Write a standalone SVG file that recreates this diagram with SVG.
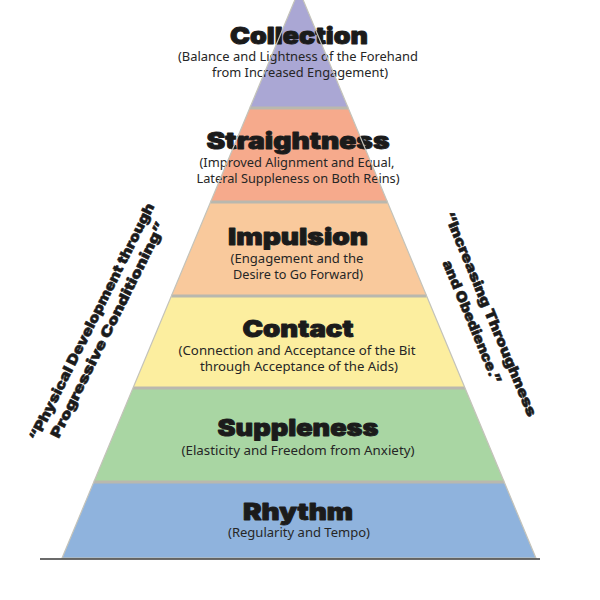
<svg xmlns="http://www.w3.org/2000/svg" width="600" height="600" viewBox="0 0 600 600">
<style>
.title{font-family:"Inter","Lato","Open Sans","DejaVu Sans",sans-serif;font-weight:900;font-size:23px;fill:#1b1b1b;stroke:#1b1b1b;stroke-width:0.9;stroke-linejoin:round;text-anchor:middle}
.sub{font-family:"Noto Sans","Open Sans","Liberation Sans",sans-serif;font-size:12px;fill:#262626;text-anchor:middle}
.side{font-family:"Inter","Lato","Open Sans","DejaVu Sans",sans-serif;font-weight:900;font-size:14px;fill:#1b1b1b;stroke:#1b1b1b;stroke-width:0.5;stroke-linejoin:round;text-anchor:middle}
.sep{stroke:#b9b8ae;stroke-width:3}
</style>
<rect width="600" height="600" fill="#ffffff"/>
<g id="collection">
<polygon points="299,-10 348.2,108 249.8,108" fill="#aaa7d4"/>
<text class="title" x="299" y="44" textLength="138" lengthAdjust="spacingAndGlyphs">Collection</text>
<text class="sub" x="298" y="61" textLength="240" lengthAdjust="spacingAndGlyphs">(Balance and Lightness of the Forehand</text>
<text class="sub" x="300" y="77" textLength="176" lengthAdjust="spacingAndGlyphs">from Increased Engagement)</text>
</g>
<g id="straightness">
<polygon points="249.8,108 348.2,108 387.4,202 210.6,202" fill="#f6aa8c"/>
<text class="title" x="298" y="149" textLength="183" lengthAdjust="spacingAndGlyphs">Straightness</text>
<text class="sub" x="297" y="167" textLength="195" lengthAdjust="spacingAndGlyphs">(Improved Alignment and Equal,</text>
<text class="sub" x="298" y="183" textLength="203" lengthAdjust="spacingAndGlyphs">Lateral Suppleness on Both Reins)</text>
</g>
<g id="impulsion">
<polygon points="210.6,202 387.4,202 426.6,296 171.4,296" fill="#f9c99c"/>
<text class="title" x="298" y="245" textLength="140" lengthAdjust="spacingAndGlyphs">Impulsion</text>
<text class="sub" x="297" y="263" textLength="133" lengthAdjust="spacingAndGlyphs">(Engagement and the</text>
<text class="sub" x="298" y="279" textLength="130" lengthAdjust="spacingAndGlyphs">Desire to Go Forward)</text>
</g>
<g id="contact">
<polygon points="171.4,296 426.6,296 465,388 133,388" fill="#fcee9f"/>
<text class="title" x="298" y="337" textLength="111" lengthAdjust="spacingAndGlyphs">Contact</text>
<text class="sub" x="297" y="355" textLength="237" lengthAdjust="spacingAndGlyphs">(Connection and Acceptance of the Bit</text>
<text class="sub" x="299" y="371" textLength="198" lengthAdjust="spacingAndGlyphs">through Acceptance of the Aids)</text>
</g>
<g id="suppleness">
<polygon points="133,388 465,388 504.2,482 93.8,482" fill="#a9d6a3"/>
<text class="title" x="298" y="436" textLength="161" lengthAdjust="spacingAndGlyphs">Suppleness</text>
<text class="sub" x="298" y="455" textLength="233" lengthAdjust="spacingAndGlyphs">(Elasticity and Freedom from Anxiety)</text>
</g>
<g id="rhythm">
<polygon points="93.8,482 504.2,482 535.9,558 62.1,558" fill="#8fb3dd"/>
<text class="title" x="298" y="520" textLength="110" lengthAdjust="spacingAndGlyphs">Rhythm</text>
<text class="sub" x="299" y="537" textLength="142" lengthAdjust="spacingAndGlyphs">(Regularity and Tempo)</text>
</g>
<g id="separators">
<line class="sep" x1="249.8" y1="108" x2="348.2" y2="108"/>
<line class="sep" x1="210.6" y1="202" x2="387.4" y2="202"/>
<line class="sep" x1="171.4" y1="296" x2="426.6" y2="296"/>
<line class="sep" x1="133" y1="388" x2="465" y2="388"/>
<line class="sep" x1="93.8" y1="482" x2="504.2" y2="482"/>
<polygon points="299,-10 535.9,558 62.1,558" fill="none" stroke="#c4c3ba" stroke-width="1.2"/>
<line x1="40" y1="559" x2="540" y2="559" stroke="#3a3a3a" stroke-width="1.5"/>
</g>
<g id="left-label" transform="translate(96,324) rotate(-63.5)">
<text class="side" x="0" y="0" textLength="263" lengthAdjust="spacingAndGlyphs">“Physical Development through</text>
<text class="side" x="0" y="18" textLength="239" lengthAdjust="spacingAndGlyphs">Progressive Conditioning”</text>
</g>
<g id="right-label" transform="translate(486,316) rotate(67.5)">
<text class="side" x="0" y="0" textLength="220" lengthAdjust="spacingAndGlyphs">“Increasing Throughness</text>
<text class="side" x="0" y="20" textLength="132" lengthAdjust="spacingAndGlyphs">and Obedience.”</text>
</g>
</svg>
